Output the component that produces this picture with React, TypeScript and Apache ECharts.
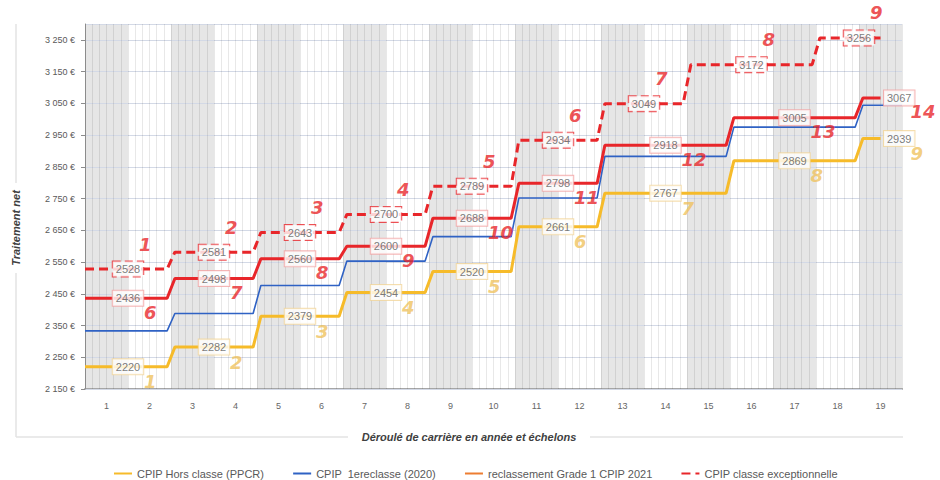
import React, { useEffect, useRef } from "react";
import * as echarts from "echarts";

// ---------- DATA ----------
const years = ["1", "2", "3", "4", "5", "6", "7", "8", "9", "10", "11", "12", "13", "14", "15", "16", "17", "18", "19"];

// CPIP Hors classe (PPCR)
const horsClasseValues = [2220, 2282, 2379, 2454, 2520, 2661, 2767, 2869, 2939];
const horsClasseEchelons = [1, 2, 3, 4, 5, 6, 7, 8, 9];
const horsClasseStartYears = [1, 3, 5, 7, 9, 11, 13, 16, 19];

// CPIP 1ere classe (2020)
const premiereClasseValues = [2333, 2388, 2476, 2553, 2630, 2752, 2883, 2975, 3044];
const premiereClasseStartYears = [1, 3, 5, 7, 9, 11, 13, 16, 19];

// reclassement Grade 1 CPIP 2021
const grade1Values = [2436, 2498, 2560, 2600, 2688, 2798, 2918, 3005, 3067];
const grade1Echelons = [6, 7, 8, 9, 10, 11, 12, 13, 14];
const grade1StartYears = [1, 3, 5, 7, 9, 11, 13, 16, 19];

// CPIP classe exceptionnelle
const exceptValues = [2528, 2581, 2643, 2700, 2789, 2934, 3049, 3172, 3256];
const exceptEchelons = [1, 2, 3, 4, 5, 6, 7, 8, 9];
const exceptStartYears = [1, 3, 5, 7, 9, 11, 13, 15, 18];

const seriesNames = [
  "CPIP Hors classe (PPCR)",
  "CPIP  1ereclasse (2020)",
  "reclassement Grade 1 CPIP 2021",
  "CPIP classe exceptionnelle",
];

const yMin = 2150;
const yMax = 3300;
const yStep = 100;
const subDivisionsPerYear = 6;

// ---------- HELPERS ----------
const RAMP = 0.09;
const FIRST_X = 0.5;
const LAST_YEAR = years.length;

function stepLine(values: number[], starts: number[], endX: number) {
  const pts: number[][] = [[FIRST_X, values[0]]];
  for (let i = 1; i < values.length; i++) {
    const b = starts[i] - 0.5;
    pts.push([b - RAMP, values[i - 1]], [b + RAMP, values[i]]);
  }
  pts.push([endX, values[values.length - 1]]);
  return pts;
}

function labelPoints(values: number[], starts: number[]) {
  return values.map((v, i) => {
    const s = starts[i];
    const e = i < values.length - 1 ? starts[i + 1] - 1 : LAST_YEAR;
    return { x: (s + e) / 2, y: v, atEnd: s === e && i === values.length - 1 };
  });
}

const fmtEuro = (v: number) => {
  const th = Math.floor(v / 1000);
  const rest = String(Math.round(v % 1000)).padStart(3, "0");
  return `${th} ${rest} €`;
};

function valueLabelSeries(
  pts: { x: number; y: number; atEnd: boolean }[],
  borderColor: string,
  dashed: boolean
) {
  return {
    type: "scatter",
    xAxisIndex: 1,
    yAxisIndex: 0,
    symbolSize: 1,
    itemStyle: { color: "rgba(0,0,0,0)" },
    silent: true,
    z: 10,
    data: pts.map((p) => ({
      value: [p.x, p.y],
      label: p.atEnd ? { position: "right", distance: 3 } : { position: "inside" },
    })),
    label: {
      show: true,
      formatter: (p: any) => String(p.value[1]),
      color: "#595959",
      fontSize: 11,
      fontFamily: "Liberation Sans, Arial, sans-serif",
      backgroundColor: "#ffffff",
      borderColor,
      borderWidth: 1,
      borderType: dashed ? "dashed" : "solid",
      padding: [1, 3, 1, 3],
      lineHeight: 13,
    },
  };
}

function numberSeries(
  pts: { x: number; y: number; atEnd: boolean }[],
  echelons: number[],
  color: string,
  dx: number,
  dy: number
) {
  return {
    type: "scatter",
    xAxisIndex: 1,
    yAxisIndex: 0,
    symbolSize: 1,
    itemStyle: { color: "rgba(0,0,0,0)" },
    silent: true,
    z: 11,
    data: pts.map((p, i) => ({
      value: [p.x, p.y, echelons[i]],
      label: { offset: [dx + (p.atEnd ? 14 : 0), dy] },
    })),
    label: {
      show: true,
      position: "inside",
      align: "left",
      verticalAlign: "middle",
      formatter: (p: any) => String(p.value[2]),
      color,
      fontSize: 18,
      fontWeight: "bold",
      fontStyle: "italic",
      fontFamily: "DejaVu Sans, Verdana, sans-serif",
    },
  };
}

// ---------- COMPONENT ----------
export default function App() {
  const ref = useRef<HTMLDivElement>(null);

  useEffect(() => {
    if (!ref.current) return;
    const chart = echarts.init(ref.current, undefined, { renderer: "svg" });

    const yellow = "#f6bb2a";
    const yellowNum = "#efc25e";
    const blue = "#2f62c4";
    const red = "#e8262a";
    const orange = "#ed7d31";

    const hcPts = labelPoints(horsClasseValues, horsClasseStartYears);
    const g1Pts = labelPoints(grade1Values, grade1StartYears);
    const exPts = labelPoints(exceptValues, exceptStartYears);

    const option: any = {
      animation: false,
      backgroundColor: "#ffffff",
      grid: { left: 85, right: 38, top: 24, bottom: 91, containLabel: false },
      xAxis: [
        {
          type: "category",
          data: years,
          boundaryGap: true,
          position: "bottom",
          z: 0,
          axisLine: { show: true, lineStyle: { color: "#a6a6a6", width: 2 } },
          axisTick: { show: false },
          axisLabel: {
            color: "#666666",
            fontSize: 9,
            margin: 12,
            fontFamily: "Liberation Sans, Arial, sans-serif",
          },
          splitLine: { show: false },
          splitArea: {
            show: true,
            areaStyle: { color: ["#e6e6e6", "rgba(255,255,255,0)"] },
          },
        },
        {
          type: "value",
          min: FIRST_X,
          max: LAST_YEAR + 0.5,
          show: false,
        },
        {
          type: "value",
          min: 0,
          max: years.length * subDivisionsPerYear,
          interval: 1,
          position: "bottom",
          z: 1,
          axisLine: { show: false },
          axisTick: { show: false },
          axisLabel: { show: false },
          splitLine: { show: true, lineStyle: { color: "rgba(0,0,0,0.09)", width: 1 } },
        },
      ],
      yAxis: [
        {
          type: "value",
          min: yMin,
          max: yMax,
          interval: yStep,
          z: 1,
          axisLine: { show: true, lineStyle: { color: "#8c8c8c", width: 1 } },
          axisTick: { show: true, length: 4, lineStyle: { color: "#8c8c8c" } },
          axisLabel: {
            color: "#595959",
            fontSize: 9,
            margin: 10,
            fontFamily: "Liberation Sans, Arial, sans-serif",
            showMaxLabel: false,
            formatter: (v: number) => (v >= yMax ? "" : fmtEuro(v)),
          },
          splitLine: { show: true, lineStyle: { color: "#d3d9e6", width: 1 } },
        },
      ],
      legend: {
        show: true,
        left: 108,
        top: 463,
        itemWidth: 18,
        itemHeight: 10,
        itemGap: 28,
        itemStyle: { opacity: 0 },
        textStyle: {
          color: "#595959",
          fontSize: 11,
          fontFamily: "Liberation Sans, Arial, sans-serif",
        },
        data: [
          { name: seriesNames[0] },
          { name: seriesNames[1] },
          { name: seriesNames[2], lineStyle: { color: orange } },
          { name: seriesNames[3] },
        ],
      },
      series: [
        {
          name: seriesNames[0],
          type: "line",
          xAxisIndex: 1,
          symbol: "none",
          z: 3,
          color: yellow,
          lineStyle: { color: yellow, width: 3 },
          data: stepLine(horsClasseValues, horsClasseStartYears, LAST_YEAR),
        },
        {
          name: seriesNames[1],
          type: "line",
          xAxisIndex: 1,
          symbol: "none",
          z: 3,
          color: blue,
          lineStyle: { color: blue, width: 1.6 },
          data: stepLine(premiereClasseValues, premiereClasseStartYears, LAST_YEAR + 0.5),
        },
        {
          name: seriesNames[2],
          type: "line",
          xAxisIndex: 1,
          symbol: "none",
          z: 4,
          color: red,
          lineStyle: { color: red, width: 3 },
          data: stepLine(grade1Values, grade1StartYears, LAST_YEAR),
        },
        {
          name: seriesNames[3],
          type: "line",
          xAxisIndex: 1,
          symbol: "none",
          z: 4,
          color: red,
          lineStyle: { color: red, width: 3, type: [9, 5] },
          data: stepLine(exceptValues, exceptStartYears, LAST_YEAR),
        },
        valueLabelSeries(hcPts, "#f3d69a", false),
        valueLabelSeries(g1Pts, "#f2a3a3", false),
        valueLabelSeries(exPts, red, true),
        numberSeries(hcPts, horsClasseEchelons, yellowNum, 16, 15),
        numberSeries(g1Pts, grade1Echelons, red, 16, 14),
        numberSeries(exPts, exceptEchelons, red, 11, -25),
      ],
      graphic: [
        { type: "line", silent: true, shape: { x1: 16, y1: 24, x2: 16, y2: 183 }, style: { stroke: "#e3e3e3", lineWidth: 1.5 } },
        { type: "line", silent: true, shape: { x1: 16, y1: 273, x2: 16, y2: 437 }, style: { stroke: "#e3e3e3", lineWidth: 1.5 } },
        { type: "line", silent: true, shape: { x1: 16, y1: 437, x2: 348, y2: 437 }, style: { stroke: "#e3e3e3", lineWidth: 1.5 } },
        { type: "line", silent: true, shape: { x1: 590, y1: 437, x2: 903, y2: 437 }, style: { stroke: "#e3e3e3", lineWidth: 1.5 } },
        {
          type: "text",
          x: 469,
          y: 437,
          silent: true,
          style: {
            text: "Déroulé de carrière en année et échelons",
            align: "center",
            verticalAlign: "middle",
            fill: "#404040",
            fontSize: 11,
            fontWeight: "bold",
            fontStyle: "italic",
            fontFamily: "Liberation Sans, Arial, sans-serif",
          },
        },
        {
          type: "text",
          x: 16,
          y: 228,
          rotation: Math.PI / 2,
          silent: true,
          style: {
            text: "Traitement net",
            align: "center",
            verticalAlign: "middle",
            fill: "#404040",
            fontSize: 11,
            fontWeight: "bold",
            fontStyle: "italic",
            fontFamily: "Liberation Sans, Arial, sans-serif",
          },
        },
      ],
    };

    chart.setOption(option);
    return () => chart.dispose();
  }, []);

  return (
    <div
      ref={ref}
      style={{ position: "fixed", left: 0, top: 0, width: 940, height: 480, background: "#fff" }}
    />
  );
}
